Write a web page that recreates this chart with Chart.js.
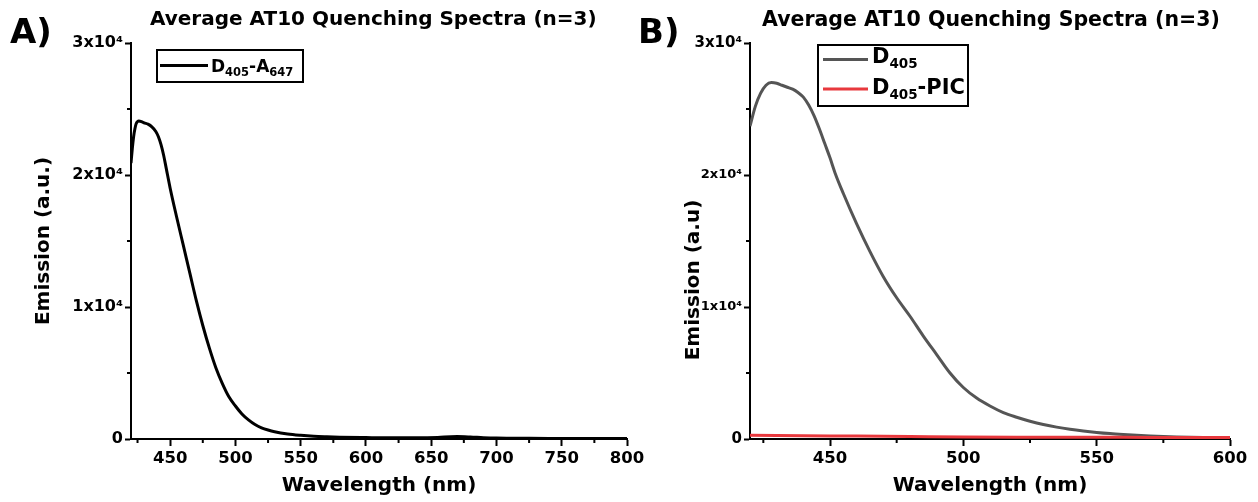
<!DOCTYPE html>
<html><head><meta charset="utf-8">
<script src="https://cdn.jsdelivr.net/npm/chart.js@4/dist/chart.umd.min.js"></script>
<style>
html,body{margin:0;padding:0;background:#fff;}
#wrap{position:relative;width:1258px;height:502px;overflow:hidden;background:#fff;}
canvas{position:absolute;top:0;}
#cA{left:0;} #cB{left:629px;}
</style></head><body>
<div id="wrap"><canvas id="cA" width="660" height="502"></canvas><canvas id="cB" width="629" height="502"></canvas></div>
<script>
// ---------- data ----------
const wavelengthA = [420,421,422,423,424,426,428,430,433,436,439,441,443,445,447,450,455,460,465,470,475,480,485,490,495,500,505,510,515,520,525,530,540,550,560,570,580,600,620,640,655,665,670,680,690,700,725,750,775,800];
const emissionA   = [20900,22000,22900,23500,23900,24100,24050,23950,23850,23650,23300,22900,22300,21500,20500,19000,16800,14700,12600,10500,8600,6900,5400,4200,3200,2500,1900,1450,1100,850,680,550,380,280,210,170,140,110,90,90,120,170,180,150,100,70,50,40,30,30];

const wavelengthB = [420,422,424,426,428,430,432,434,436,438,440,442,444,446,448,450,452,455,460,465,470,475,480,485,490,495,500,505,510,515,520,525,530,535,540,545,550,555,560,565,570,575,580,585,590,595,600];
const emissionD405 = [23700,25200,26200,26800,27000,26950,26800,26650,26500,26250,25900,25300,24500,23500,22400,21300,20100,18600,16300,14200,12300,10700,9300,7800,6400,5000,3900,3100,2500,2000,1650,1350,1100,900,740,610,500,410,340,280,230,190,160,135,115,100,90];

const wavelengthPIC = [420,440,460,480,500,520,540,560,580,600];
const emissionPIC   = [280,250,220,190,160,140,130,125,120,120];

const xTicksA = [450,500,550,600,650,700,750,800];
const xMinorA = [425,475,525,575,625,675,725,775];
const xTicksB = [450,500,550,600];
const xMinorB = [425,475,525,575];
const yTicks  = [0,10000,20000,30000];
const yMinor  = [5000,15000,25000];

const titleText = 'Average AT10 Quenching Spectra (n=3)';
const xTitle = 'Wavelength (nm)';
const yTitleA = 'Emission (a.u.)';
const yTitleB = 'Emission (a.u)';
const legendA = [[['D',0],['405',1],['-A',0],['647',1]]];
const legendB = [[['D',0],['405',1]],[['D',0],['405',1],['-PIC',0]]];

// ---------- helpers ----------
const FONT = 'DejaVu Sans';
function pts(xs, ys){ return xs.map((x,i)=>({x:x,y:ys[i]})); }
function yLabel(v){ return v===0 ? '0' : (v/10000)+'x10\u2074'; }

function scales(xmin,xmax,xt,yw,yt,ytitlePad,yFont){
  return {
    x:{type:'linear',min:xmin,max:xmax,
      afterBuildTicks:s=>{s.ticks = xt.map(v=>({value:v}));},
      ticks:{autoSkip:false,maxRotation:0,color:'#000',padding:3,font:{family:FONT,weight:'bold',size:16.5}},
      grid:{display:true,drawOnChartArea:false,drawTicks:true,tickLength:7,tickWidth:2,tickColor:'#000'},
      border:{display:true,color:'#000',width:2},
      title:{display:true,text:xTitle,color:'#000',font:{family:FONT,weight:'bold',size:20},padding:{top:0,bottom:4}},
      afterFit:s=>{s.height=63;}
    },
    y:{type:'linear',min:0,max:30000,
      afterBuildTicks:s=>{s.ticks = yTicks.map(v=>({value:v}));},
      ticks:{autoSkip:false,color:'#000',padding:2,font:yFont,callback:v=>yLabel(v)},
      grid:{display:true,drawOnChartArea:false,drawTicks:true,tickLength:6,tickWidth:2,tickColor:'#000'},
      border:{display:true,color:'#000',width:2},
      title:{display:!!yt,text:yt||'',color:'#000',font:{family:FONT,weight:'bold',size:20},padding:{top:ytitlePad,bottom:0}},
      afterFit:s=>{s.width=yw;}
    }
  };
}

function decor(cfg){
  return {id:'decor',afterDraw(chart){
    const ctx=chart.ctx, xs=chart.scales.x, ys=chart.scales.y, ca=chart.chartArea;
    ctx.save();
    // minor ticks
    ctx.strokeStyle='#000'; ctx.lineWidth=2; ctx.beginPath();
    cfg.xMinor.forEach(v=>{const p=xs.getPixelForValue(v); ctx.moveTo(p,ca.bottom); ctx.lineTo(p,ca.bottom+4);});
    yMinor.forEach(v=>{const p=ys.getPixelForValue(v); ctx.moveTo(ca.left,p); ctx.lineTo(ca.left-4,p);});
    ctx.stroke();
    // panel letter
    ctx.fillStyle='#000'; ctx.textAlign='left'; ctx.textBaseline='alphabetic';
    ctx.font='bold 34px "'+FONT+'"';
    ctx.fillText(cfg.letter,cfg.letterX,43);
    // title
    ctx.font='bold '+cfg.titleSize+'px "'+FONT+'"';
    ctx.fillText(titleText,cfg.titleX,cfg.titleY);
    // custom y title
    if(cfg.yTitle){
      ctx.save();
      ctx.translate(cfg.yTitle.x,cfg.yTitle.y); ctx.rotate(-Math.PI/2);
      ctx.textAlign='center'; ctx.textBaseline='middle';
      ctx.font='bold 20px "'+FONT+'"';
      ctx.fillText(cfg.yTitle.text,0,0);
      ctx.restore();
    }
    // legend
    const L=cfg.legend;
    ctx.lineWidth=2; ctx.strokeStyle='#000';
    ctx.strokeRect(L.box[0],L.box[1],L.box[2]-L.box[0],L.box[3]-L.box[1]);
    L.rows.forEach((row,i)=>{
      const ds=chart.data.datasets[L.dsIndex[i]];
      ctx.strokeStyle=ds.borderColor; ctx.lineWidth=3;
      ctx.beginPath(); ctx.moveTo(L.lineX[0],L.lineY[i]); ctx.lineTo(L.lineX[1],L.lineY[i]); ctx.stroke();
      let x=L.textX; ctx.fillStyle='#000'; ctx.textAlign='left'; ctx.textBaseline='alphabetic';
      row.forEach(([t,sub])=>{
        ctx.font='bold '+(sub?L.subSize:L.size)+'px "'+FONT+'"';
        const y=L.base[i]+(sub?L.subDrop:0);
        ctx.fillText(t,x,y); x+=ctx.measureText(t).width;
      });
    });
    ctx.restore();
  }};
}

const common = {responsive:false,animation:false,devicePixelRatio:1,
  plugins:{legend:{display:false},title:{display:false},tooltip:{enabled:false}},
  elements:{point:{radius:0}}};

new Chart(document.getElementById('cA'),{
  type:'line',
  data:{datasets:[{label:'D405-A647',data:pts(wavelengthA,emissionA),borderColor:'#000',borderWidth:3,cubicInterpolationMode:'monotone',fill:false}]},
  options:Object.assign({},common,{
    layout:{padding:{left:0,right:33,top:43,bottom:0}},
    scales:scales(420,800,xTicksA,131,yTitleA,32,{family:FONT,weight:'bold',size:16})
  }),
  plugins:[decor({xMinor:xMinorA,letter:'A)',letterX:10,titleSize:20,titleX:150,titleY:25,
    legend:{box:[157,50,303,82],lineX:[160,208],lineY:[65.5],textX:211,base:[72],size:17,subSize:11.5,subDrop:4,rows:legendA,dsIndex:[0]}})]
});

new Chart(document.getElementById('cB'),{
  type:'line',
  data:{datasets:[
    {label:'D405',data:pts(wavelengthB,emissionD405),borderColor:'#555555',borderWidth:3,cubicInterpolationMode:'monotone',fill:false,order:1},
    {label:'D405-PIC',data:pts(wavelengthPIC,emissionPIC),borderColor:'#e8383d',borderWidth:3,cubicInterpolationMode:'monotone',fill:false,order:0}
  ]},
  options:Object.assign({},common,{
    layout:{padding:{left:0,right:28,top:43,bottom:0}},
    scales:scales(420,600,xTicksB,121,null,0,ctx=>{const v=ctx.tick?ctx.tick.value:0;return {family:FONT,weight:'bold',size:(v===30000||v===0)?15:13};})
  }),
  plugins:[decor({xMinor:xMinorB,letter:'B)',letterX:9,titleSize:20.5,titleX:133,titleY:26,
    yTitle:{text:yTitleB,x:65,y:280},
    legend:{box:[189,45,339,106],lineX:[194,239],lineY:[59.5,89],textX:243,base:[63,94],size:21,subSize:13.5,subDrop:5,rows:legendB,dsIndex:[0,1]}})]
});
</script>
</body></html>
